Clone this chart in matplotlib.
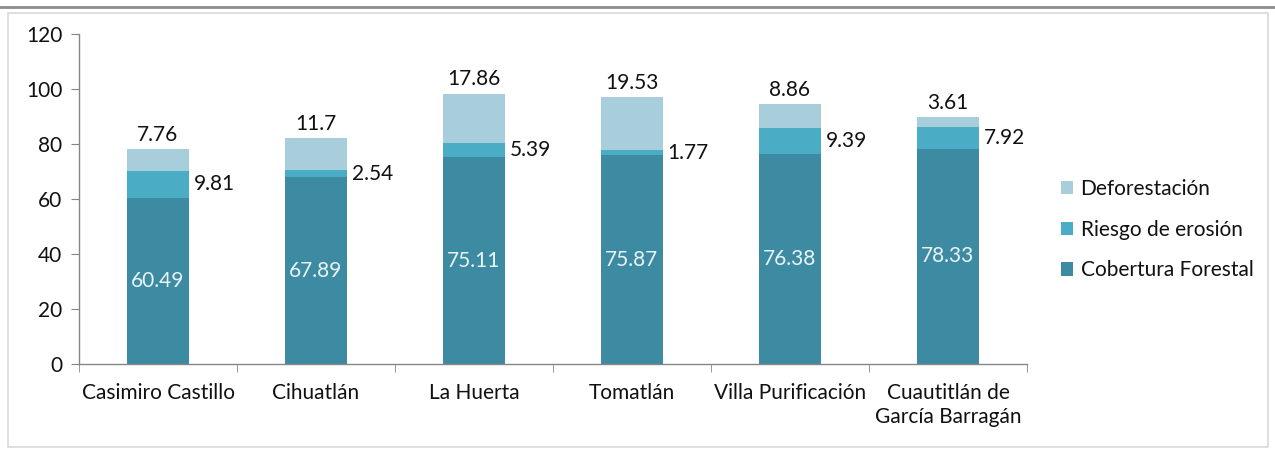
import matplotlib.pyplot as plt
import numpy as np
from matplotlib.patches import Rectangle

categories = ["Casimiro Castillo", "Cihuatlán", "La Huerta", "Tomatlán",
              "Villa Purificación", "Cuautitlán de\nGarcía Barragán"]
cobertura = [60.49, 67.89, 75.11, 75.87, 76.38, 78.33]
riesgo = [9.81, 2.54, 5.39, 1.77, 9.39, 7.92]
deforestacion = [7.76, 11.7, 17.86, 19.53, 8.86, 3.61]
cob_labels = ["60.49", "67.89", "75.11", "75.87", "76.38", "78.33"]
ries_labels = ["9.81", "2.54", "5.39", "1.77", "9.39", "7.92"]
def_labels = ["7.76", "11.7", "17.86", "19.53", "8.86", "3.61"]
yticks = [0, 20, 40, 60, 80, 100, 120]

c_cob = "#3D8BA3"
c_ries = "#4BACC6"
c_def = "#A8CEDC"

plt.rcParams['font.family'] = ['Lato', 'DejaVu Sans']

fig = plt.figure(figsize=(12.75, 4.5), dpi=100)
ax = fig.add_axes([79/1275, 1 - 364/450, (1027-79)/1275, (364-34)/450])

x = np.arange(len(categories))
w = 0.39
b1 = ax.bar(x, cobertura, w, color=c_cob, label="Cobertura Forestal")
bottom2 = np.array(cobertura)
b2 = ax.bar(x, riesgo, w, bottom=bottom2, color=c_ries, label="Riesgo de erosión")
bottom3 = bottom2 + np.array(riesgo)
b3 = ax.bar(x, deforestacion, w, bottom=bottom3, color=c_def, label="Deforestación")

fs = 15
for i in range(len(categories)):
    ax.text(x[i], cobertura[i] / 2, cob_labels[i], ha='center', va='center',
            color='#EAF3F6', fontsize=fs)
    ax.text(x[i] + w / 2 + 0.03, bottom2[i] + riesgo[i] / 2, ries_labels[i],
            ha='left', va='center', color='#111111', fontsize=fs)
    ax.text(x[i], bottom3[i] + deforestacion[i] + 1.5, def_labels[i],
            ha='center', va='bottom', color='#111111', fontsize=fs)

ax.set_xlim(-0.5, len(categories) - 0.5)
ax.set_ylim(0, 120)
ax.set_yticks(yticks)
ax.set_yticklabels([str(v) for v in yticks], fontsize=fs, color='#111111')
ax.set_xticks(x)
ax.set_xticklabels(categories, fontsize=fs, color='#111111')
ax.set_xticks(np.arange(-0.5, len(categories)), minor=True)
ax.tick_params(axis='x', which='major', length=0, pad=14)
ax.tick_params(axis='x', which='minor', length=6, color='#868686', direction='out')
ax.tick_params(axis='y', length=6, color='#868686', direction='out', pad=6)
for s in ['top', 'right']:
    ax.spines[s].set_visible(False)
for s in ['left', 'bottom']:
    ax.spines[s].set_color('#868686')
    ax.spines[s].set_linewidth(1)

handles = [b3, b2, b1]
leg = fig.legend(handles, [h.get_label() for h in handles], loc='upper left',
                 bbox_to_anchor=(1042/1275, 1 - 160/450), frameon=False,
                 fontsize=fs, handlelength=0.6, handleheight=0.6,
                 handletextpad=0.35, labelspacing=1.0)
for t in leg.get_texts():
    t.set_color('#111111')

# outer border of chart area
fig.add_artist(Rectangle((8/1275, 3/450), (1268-8)/1275, (442-8)/450,
                         transform=fig.transFigure, fill=False,
                         edgecolor='#D9D9D9', linewidth=1.2))
fig.add_artist(plt.Line2D([0, 1], [1 - 7/450, 1 - 7/450], transform=fig.transFigure,
                          color='#8C8C8C', linewidth=2))

fig.savefig("out.png", dpi=100)
